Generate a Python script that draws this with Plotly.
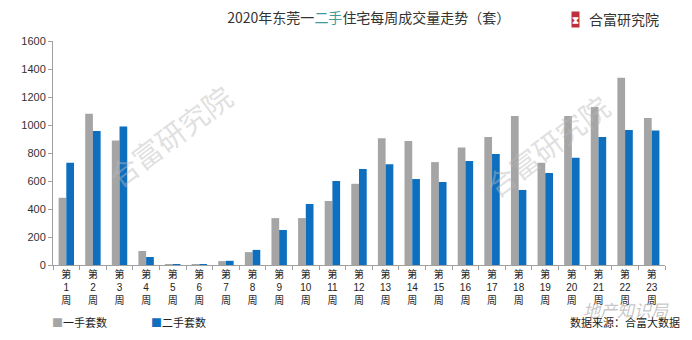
import plotly.graph_objects as go

weeks = [f"第{i}周" for i in range(1, 24)]
new_units = [480, 1080, 890, 100, 2, 4, 28, 92, 335, 335, 457, 580, 905, 885, 735, 840, 915, 1065, 730, 1065, 1128, 1337, 1050]
resale_units = [730, 957, 990, 57, 5, 7, 30, 108, 250, 436, 600, 686, 720, 614, 593, 743, 793, 536, 657, 766, 914, 964, 960]
tick_labels = [w.replace("第", "第<br>").replace("周", "<br>周") for w in weeks]
y_ticks = [0, 200, 400, 600, 800, 1000, 1200, 1400, 1600]
series_names = ["一手套数", "二手套数"]

FONT = "Noto Sans CJK SC"
GRAY = "#A5A5A5"
BLUE = "#0F6FBF"

fig = go.Figure()
fig.add_trace(go.Bar(x=weeks, y=new_units, name=series_names[0], marker=dict(color=GRAY, line=dict(width=0))))
fig.add_trace(go.Bar(x=weeks, y=resale_units, name=series_names[1], marker=dict(color=BLUE, line=dict(width=0))))

fig.update_layout(
    width=692, height=340,
    margin=dict(l=53, r=27, t=41, b=75),
    paper_bgcolor="white", plot_bgcolor="white",
    barmode="group", bargap=0.42, bargroupgap=0,
    font=dict(family=FONT, color="#333333", size=11),
    showlegend=False,
    title=dict(text="2020年东莞一<span style='color:#3d9b9b'>二手</span>住宅每周成交量走势（套）",
               x=0.533, xanchor="center", y=0.947, yanchor="middle",
               font=dict(size=14, color="#333333", family=FONT)),
    xaxis=dict(type="category", tickmode="array", tickvals=weeks, ticktext=tick_labels,
               tickangle=0, tickson="boundaries", ticks="outside", ticklen=4,
               tickcolor="#A0A0A0", showline=True, linecolor="#A0A0A0", linewidth=1,
               showgrid=False, automargin=False,
               tickfont=dict(size=10, color="#222", family="Liberation Sans, Noto Sans CJK SC")),
    yaxis=dict(range=[0, 1600], tickmode="array", tickvals=y_ticks,
               ticks="outside", ticklen=4, tickcolor="#A0A0A0",
               showline=True, linecolor="#A0A0A0", linewidth=1, showgrid=False,
               zeroline=False, automargin=False,
               tickfont=dict(size=11, color="#333", family="Liberation Sans, Arial, sans-serif")),
)

# manual legend
fig.add_annotation(text=f"<span style='color:{GRAY}'>■</span>{series_names[0]}", xref="paper", yref="paper",
                   x=-0.005, y=-0.254, xanchor="left", yanchor="middle", showarrow=False,
                   font=dict(size=11, color="#222"))
fig.add_annotation(text=f"<span style='color:{BLUE}'>■</span>{series_names[1]}", xref="paper", yref="paper",
                   x=0.157, y=-0.254, xanchor="left", yanchor="middle", showarrow=False,
                   font=dict(size=11, color="#222"))

fig.add_annotation(text="数据来源：合富大数据", xref="paper", yref="paper", x=1.028, y=-0.254,
                   xanchor="right", yanchor="middle", showarrow=False,
                   font=dict(size=11, color="#222"))
fig.add_annotation(text="<b>⧗</b>", xref="paper", yref="paper", x=0.853, y=1.098,
                   xanchor="center", yanchor="middle", showarrow=False,
                   font=dict(size=10, color="white"), bgcolor="#C0303A", borderpad=0)
fig.add_annotation(text="合富研究院", xref="paper", yref="paper", x=0.8725, y=1.098,
                   xanchor="left", yanchor="middle", showarrow=False,
                   font=dict(size=14, color="#333"))
# watermarks
for wx, wy in [(0.191, 0.58), (0.807, 0.536)]:
    fig.add_annotation(text="合富研究院", xref="paper", yref="paper", x=wx, y=wy,
                       xanchor="center", yanchor="middle", showarrow=False, textangle=-37,
                       font=dict(size=29, color="rgba(185,185,185,0.45)"))
fig.add_annotation(text="<i>地产知识局</i>", xref="paper", yref="paper", x=0.936, y=-0.2,
                   xanchor="center", yanchor="middle", showarrow=False,
                   font=dict(size=17, color="rgba(150,150,150,0.55)"))

fig.write_html("out.html")
